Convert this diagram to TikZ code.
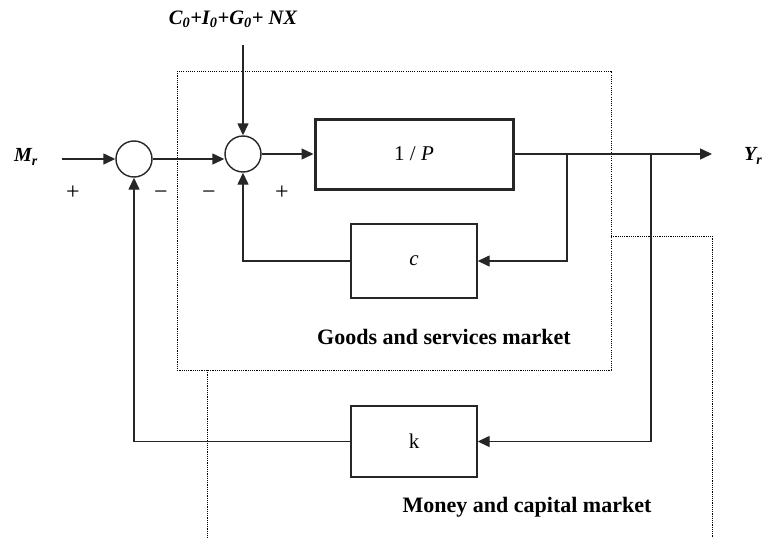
\documentclass[tikz,border=0pt]{standalone}
\usepackage{fontspec}
\setmainfont{Liberation Serif}
\usetikzlibrary{arrows.meta}

\begin{document}
\begin{tikzpicture}[x=1pt,y=-1pt,
  wire/.style={line width=1.4pt, draw=black!85},
  arr/.style={wire,-{Triangle[length=12pt,width=11pt]}},
  sumnode/.style={circle, draw=black!85, line width=1.4pt, minimum size=36pt, inner sep=0pt},
  blockbox/.style={rectangle, draw=black!85, line width=1.4pt, inner sep=0pt,
    font=\fontsize{21}{24}\selectfont},
  market/.style={line width=0.9pt, dash pattern=on 1.1pt off 1.1pt},
  marketlabel/.style={font=\fontsize{22}{26}\selectfont\bfseries, inner sep=0pt},
  signlabel/.style={font=\fontsize{24}{26}\selectfont, inner sep=0pt},
  varlabel/.style={font=\fontsize{20}{24}\selectfont\bfseries\itshape, inner sep=0pt}
]
\useasboundingbox (0,0) rectangle (763,538);

% market boundaries
\draw[market] (177,71) rectangle (611,370);
\draw[market] (207,370) -- (207,538);
\draw[market] (611,236) -- (712,236) -- (712,538);

% summing junctions and blocks
\node[sumnode] (sum1) at (134,159) {};
\node[sumnode] (sum2) at (243,154) {};
\node[blockbox, line width=3pt, minimum width=198pt, minimum height=70pt] (plant) at (414,154) {1 / \textit{P}};
\node[blockbox, minimum width=126pt, minimum height=74pt] (cbox) at (414,261) {\textit{c}};
\node[blockbox, minimum width=126pt, minimum height=71pt] (kbox) at (414,441.5) {k};

% labels
\node[varlabel, anchor=east] (mr) at (38,157) {M\textsubscript{r}};
\node[varlabel, anchor=west] (yr) at (744,156) {Y\textsubscript{r}};
\node[varlabel, font=\fontsize{20.5}{24}\selectfont\bfseries\itshape] (cig) at (233,19)
  {C\textsubscript{0}+I\textsubscript{0}+G\textsubscript{0}+ NX};
\node[marketlabel] (goods) at (444,337) {Goods and services market};
\node[marketlabel] (money) at (527,507) {Money and capital market};

\node[signlabel] (s1) at (73,193) {+};
\node[signlabel] (s2) at (161,195) {−};
\node[signlabel] (s3) at (209,195) {−};
\node[signlabel] (s4) at (282,193) {+};

% free ends of the main path
\coordinate (inM) at (62,159);
\coordinate (inC) at (243,45);
\coordinate (outY) at (712,154);
\coordinate (br1) at (567,154);
\coordinate (br2) at (651,154);

% forward path
\draw[arr] (inM) -- (sum1.west);
\draw[arr] (sum1.east) -- (sum2.west |- sum1.east);
\draw[arr] (inC) -- (sum2.north);
\draw[arr] (sum2.east) -- (plant.west);
\draw[arr] (plant.east) -- (outY);

% feedback loops
\draw[arr] (br1) |- (cbox.east);
\draw[arr] (cbox.west) -| (sum2.south);
\draw[arr] (br2) |- (kbox.east);
\draw[arr] (kbox.west) -| (sum1.south);
\end{tikzpicture}
\end{document}
